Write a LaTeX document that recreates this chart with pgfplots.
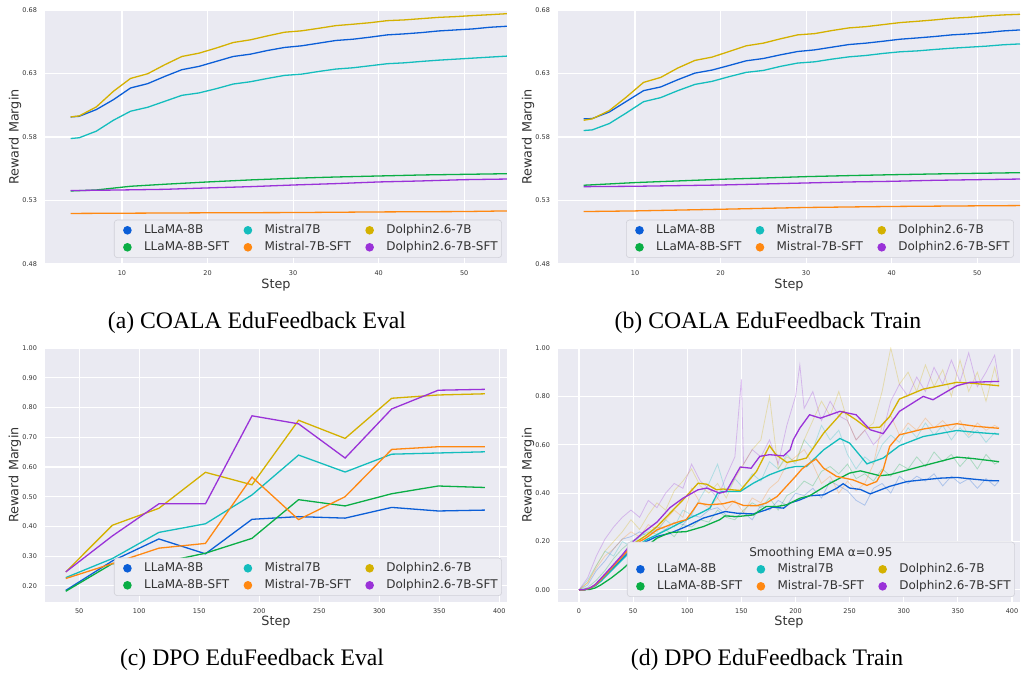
\documentclass[border=0pt]{standalone}
\usepackage{fontspec}
\setmainfont{DejaVu Sans}
\newfontfamily\capfont{Liberation Serif}
\usepackage{pgfplots}
\pgfplotsset{compat=1.18}
\definecolor{cL}{HTML}{0B5ED7}
\definecolor{cLS}{HTML}{0AAE45}
\definecolor{cM}{HTML}{14BDBD}
\definecolor{cMS}{HTML}{FF8811}
\definecolor{cD}{HTML}{D4B100}
\definecolor{cDS}{HTML}{9A32D8}
\definecolor{bg}{HTML}{EAEAF2}
\definecolor{txt}{HTML}{333333}
\definecolor{legbg}{HTML}{EDEDF3}
\definecolor{legedge}{HTML}{D0D0D8}
\pgfplotsset{
  sns/.style={
    scale only axis, width=462pt, height=254pt,
    axis background/.style={fill=bg},
    axis line style={draw=none},
    xmajorgrids, ymajorgrids,
    major grid style={draw=white, line width=1.1pt},
    tick style={draw=none},
    ticklabel style={font=\fontsize{6.5}{7}\selectfont, text=txt},
    /pgf/number format/assume math mode=true,
    yticklabel style={/pgf/number format/fixed, /pgf/number format/fixed zerofill, /pgf/number format/precision=2, xshift=-4.5pt},
    xticklabel style={yshift=-3.5pt},
    xlabel={Step}, ylabel={Reward Margin},
    label style={font=\fontsize{12.8}{15}\selectfont, text=txt},
    xlabel style={at={(axis description cs:0.5,-0.083)}, anchor=center},
    ylabel style={at={(axis description cs:-0.065,0.5)}, anchor=center},
    legend columns=3, legend cell align=left,
    legend image code/.code={\fill[##1] (0pt,0pt) circle (3.6pt); \path (-12.5pt,0pt) (12pt,0pt);},
    legend style={font=\fontsize{12}{14}\selectfont, text=txt, fill=legbg, draw=legedge, line width=0.6pt, rounded corners=3pt, inner xsep=0pt, inner ysep=2pt, row sep=0.4pt, anchor=south east, nodes={inner xsep=4pt, inner ysep=2.5pt, text height=9pt, text depth=2.6pt}, /tikz/every even column/.append style={column sep=1.5pt}},
    every axis plot/.append style={line width=1.3pt},
  },
  raw/.style={forget plot, line width=0.8pt, opacity=0.28},
}
\begin{document}
\begin{tikzpicture}
\useasboundingbox (0pt,0pt) rectangle (1021pt,675pt);
% ---------------- (a) ----------------
\begin{axis}[sns, at={(45pt,411pt)}, anchor=south west,
  xmin=1, xmax=55, ymin=0.48, ymax=0.68,
  xtick={10,20,30,40,50}, ytick={0.48,0.53,0.58,0.63,0.68},
  legend style={at={(axis description cs:0.989,0.024)}}]
\addplot[cL] coordinates {(4,0.5958)(5,0.5963)(7,0.6016)(9,0.6094)(11,0.6186)(13,0.622)(15,0.6277)(17,0.633)(19,0.6356)(21,0.6395)(23,0.6434)(25,0.6452)(27,0.6481)(29,0.6505)(31,0.6518)(33,0.6539)(35,0.656)(37,0.657)(39,0.6586)(41,0.6604)(43,0.6612)(45,0.6622)(47,0.6635)(49,0.6643)(51,0.6651)(53,0.6664)(55,0.6672)};
\addlegendentry{LLaMA-8B}
\addplot[cM] coordinates {(4,0.5788)(5,0.5794)(7,0.5846)(9,0.5932)(11,0.6003)(13,0.6034)(15,0.6081)(17,0.6128)(19,0.6147)(21,0.618)(23,0.6217)(25,0.6235)(27,0.6261)(29,0.6285)(31,0.6295)(33,0.6316)(35,0.6335)(37,0.6345)(39,0.6361)(41,0.6377)(43,0.6384)(45,0.6395)(47,0.6405)(49,0.6413)(51,0.6421)(53,0.6429)(55,0.6437)};
\addlegendentry{Mistral7B}
\addplot[cD] coordinates {(4,0.5958)(5,0.5966)(7,0.6037)(9,0.616)(11,0.6261)(13,0.6298)(15,0.6369)(17,0.6434)(19,0.646)(21,0.65)(23,0.6544)(25,0.6565)(27,0.6596)(29,0.6625)(31,0.6636)(33,0.6656)(35,0.6677)(37,0.6688)(39,0.670)(41,0.6716)(43,0.6722)(45,0.6732)(47,0.6742)(49,0.6748)(51,0.6756)(53,0.6763)(55,0.6771)};
\addlegendentry{Dolphin2.6-7B}
\addplot[cLS] coordinates {(4,0.5375)(7,0.5383)(11,0.5412)(15,0.5428)(20,0.5446)(25,0.5462)(30,0.5475)(35,0.5485)(40,0.5493)(45,0.5501)(50,0.5506)(55,0.5511)};
\addlegendentry{LLaMA-8B-SFT}
\addplot[cMS] coordinates {(4,0.5198)(20,0.5203)(30,0.5205)(40,0.521)(50,0.5213)(55,0.5218)};
\addlegendentry{Mistral-7B-SFT}
\addplot[cDS] coordinates {(4,0.5378)(10,0.5383)(15,0.5388)(20,0.5399)(25,0.5409)(30,0.5422)(35,0.5433)(40,0.5446)(45,0.5454)(50,0.5464)(55,0.5469)};
\addlegendentry{Dolphin2.6-7B-SFT}
\end{axis}
% ---------------- (b) ----------------
\begin{axis}[sns, at={(558pt,411pt)}, anchor=south west,
  xmin=1, xmax=55, ymin=0.48, ymax=0.68,
  xtick={10,20,30,40,50}, ytick={0.48,0.53,0.58,0.63,0.68},
  legend style={at={(axis description cs:0.987,0.024)}}]
\addplot[cL] coordinates {(4,0.5943)(5,0.5945)(7,0.5997)(9,0.6081)(11,0.6165)(13,0.6194)(15,0.6251)(17,0.6303)(19,0.6327)(21,0.6363)(23,0.64)(25,0.6418)(27,0.6447)(29,0.6473)(31,0.6486)(33,0.6507)(35,0.6528)(37,0.6539)(39,0.6554)(41,0.657)(43,0.658)(45,0.6591)(47,0.6604)(49,0.6612)(51,0.6622)(53,0.6635)(55,0.6643)};
\addlegendentry{LLaMA-8B}
\addplot[cM] coordinates {(4,0.5851)(5,0.5856)(7,0.5906)(9,0.599)(11,0.6078)(13,0.611)(15,0.6165)(17,0.6214)(19,0.6238)(21,0.6275)(23,0.6309)(25,0.6324)(27,0.6356)(29,0.6382)(31,0.6392)(33,0.6413)(35,0.6431)(37,0.6442)(39,0.6458)(41,0.6471)(43,0.6478)(45,0.6489)(47,0.6499)(49,0.6507)(51,0.6515)(53,0.6526)(55,0.6533)};
\addlegendentry{Mistral7B}
\addplot[cD] coordinates {(4,0.5932)(5,0.5943)(7,0.6008)(9,0.6115)(11,0.623)(13,0.6269)(15,0.6343)(17,0.6403)(19,0.6429)(21,0.6473)(23,0.6518)(25,0.6539)(27,0.6573)(29,0.6604)(31,0.6614)(33,0.6638)(35,0.6659)(37,0.6669)(39,0.6685)(41,0.6701)(43,0.6711)(45,0.6722)(47,0.6735)(49,0.6742)(51,0.6753)(53,0.6761)(55,0.6766)};
\addlegendentry{Dolphin2.6-7B}
\addplot[cLS] coordinates {(4,0.542)(10,0.5441)(15,0.5454)(20,0.5467)(25,0.5477)(30,0.5488)(35,0.5496)(40,0.5503)(45,0.5509)(50,0.5514)(55,0.5519)};
\addlegendentry{LLaMA-8B-SFT}
\addplot[cMS] coordinates {(4,0.5213)(10,0.5218)(20,0.5231)(30,0.5245)(40,0.5253)(50,0.5258)(55,0.526)};
\addlegendentry{Mistral-7B-SFT}
\addplot[cDS] coordinates {(4,0.5409)(10,0.5412)(15,0.5417)(20,0.5422)(25,0.543)(30,0.5438)(35,0.5446)(40,0.5451)(45,0.5459)(50,0.5464)(55,0.5469)};
\addlegendentry{Dolphin2.6-7B-SFT}
\end{axis}
% ---------------- (c) ----------------
\begin{axis}[sns, at={(45pt,73pt)}, anchor=south west,
  xmin=21.5, xmax=406.5, ymin=0.146, ymax=1.0,
  xtick={50,100,...,400}, ytick={0.2,0.3,0.4,0.5,0.6,0.7,0.8,0.9,1.0},
  xlabel style={at={(axis description cs:0.5,-0.079)}},
  legend style={at={(axis description cs:0.989,0.024)}}]
\addplot[cL] coordinates {(38.8,0.185)(77.6,0.284)(116.4,0.358)(155.2,0.308)(194,0.424)(232.8,0.433)(271.6,0.428)(310.4,0.464)(349.2,0.452)(388,0.455)};
\addlegendentry{LLaMA-8B}
\addplot[cM] coordinates {(38.8,0.228)(77.6,0.292)(116.4,0.38)(155.2,0.409)(194,0.506)(232.8,0.64)(271.6,0.583)(310.4,0.643)(349.2,0.647)(388,0.651)};
\addlegendentry{Mistral7B}
\addplot[cD] coordinates {(38.8,0.247)(77.6,0.404)(116.4,0.461)(155.2,0.582)(194,0.54)(232.8,0.757)(271.6,0.696)(310.4,0.831)(349.2,0.842)(388,0.846)};
\addlegendentry{Dolphin2.6-7B}
\addplot[cLS] coordinates {(38.8,0.182)(77.6,0.275)(116.4,0.277)(155.2,0.31)(194,0.36)(232.8,0.49)(271.6,0.469)(310.4,0.51)(349.2,0.536)(388,0.531)};
\addlegendentry{LLaMA-8B-SFT}
\addplot[cMS] coordinates {(38.8,0.225)(77.6,0.275)(116.4,0.327)(155.2,0.343)(194,0.566)(232.8,0.423)(271.6,0.5)(310.4,0.659)(349.2,0.668)(388,0.668)};
\addlegendentry{Mistral-7B-SFT}
\addplot[cDS] coordinates {(38.8,0.247)(77.6,0.368)(116.4,0.476)(155.2,0.476)(194,0.772)(232.8,0.745)(271.6,0.63)(310.4,0.795)(349.2,0.858)(388,0.861)};
\addlegendentry{Dolphin2.6-7B-SFT}
\end{axis}
% ---------------- (d) ----------------
\begin{axis}[sns, at={(558pt,73pt)}, anchor=south west,
  xmin=-19.4, xmax=407.4, ymin=-0.05, ymax=1.0,
  xtick={0,50,...,400}, ytick={0,0.2,0.4,0.6,0.8,1.0},
  xlabel style={at={(axis description cs:0.5,-0.079)}},
  legend style={at={(axis description cs:0.989,0.02)},
    label={[anchor=north, yshift=-1.7pt, font=\fontsize{12}{14}\selectfont, text=txt]north:Smoothing EMA α=0.95}}]
% raw (unsmoothed) traces
\addplot[raw, cL] coordinates {(0,0)(8,0.02)(16,0.08)(24,0.12)(32,0.17)(40,0.21)(48,0.22)(56,0.24)(64,0.22)(72,0.26)(80,0.25)(88,0.28)(96,0.27)(104,0.31)(112,0.30)(120,0.33)(128,0.34)(136,0.31)(144,0.30)(152,0.32)(160,0.29)(168,0.35)(176,0.33)(184,0.37)(192,0.35)(200,0.40)(208,0.39)(216,0.42)(224,0.38)(232,0.45)(240,0.43)(248,0.41)(256,0.37)(264,0.35)(272,0.42)(280,0.44)(288,0.40)(296,0.47)(304,0.44)(312,0.47)(320,0.45)(328,0.48)(336,0.43)(344,0.47)(352,0.44)(360,0.46)(368,0.42)(376,0.46)(384,0.43)(388,0.45)};
\addplot[raw, cLS] coordinates {(0,0)(8,0.01)(16,0.04)(24,0.08)(32,0.13)(40,0.17)(48,0.20)(56,0.22)(64,0.24)(72,0.23)(80,0.25)(88,0.22)(96,0.27)(104,0.26)(112,0.29)(120,0.28)(128,0.33)(136,0.30)(144,0.29)(152,0.33)(160,0.36)(168,0.34)(176,0.38)(184,0.33)(192,0.39)(200,0.41)(208,0.45)(216,0.43)(224,0.49)(232,0.51)(240,0.48)(248,0.52)(256,0.46)(264,0.48)(272,0.45)(280,0.50)(288,0.47)(296,0.52)(304,0.50)(312,0.55)(320,0.51)(328,0.57)(336,0.53)(344,0.56)(352,0.51)(360,0.55)(368,0.50)(376,0.56)(384,0.52)(388,0.53)};
\addplot[raw, cM] coordinates {(0,0)(8,0.04)(16,0.10)(24,0.16)(32,0.14)(40,0.20)(48,0.18)(56,0.22)(64,0.25)(72,0.24)(80,0.29)(88,0.26)(96,0.33)(104,0.31)(112,0.38)(120,0.44)(128,0.52)(136,0.40)(144,0.46)(152,0.42)(160,0.48)(168,0.45)(176,0.53)(184,0.50)(192,0.56)(200,0.52)(208,0.62)(216,0.58)(224,0.68)(232,0.62)(240,0.66)(248,0.56)(256,0.50)(264,0.55)(272,0.52)(280,0.60)(288,0.64)(296,0.61)(304,0.67)(312,0.63)(320,0.69)(328,0.64)(336,0.68)(344,0.62)(352,0.67)(360,0.63)(368,0.66)(376,0.61)(384,0.65)(388,0.64)};
\addplot[raw, cMS] coordinates {(0,0)(8,0.03)(16,0.09)(24,0.14)(32,0.17)(40,0.21)(48,0.24)(56,0.22)(64,0.27)(72,0.25)(80,0.29)(88,0.33)(96,0.30)(104,0.42)(112,0.36)(120,0.34)(128,0.38)(136,0.33)(144,0.37)(152,0.32)(160,0.38)(168,0.36)(176,0.42)(184,0.45)(192,0.52)(200,0.55)(208,0.58)(216,0.52)(224,0.44)(232,0.47)(240,0.40)(248,0.45)(256,0.41)(264,0.44)(272,0.52)(280,0.68)(288,0.72)(296,0.64)(304,0.69)(312,0.66)(320,0.71)(328,0.67)(336,0.70)(344,0.66)(352,0.70)(360,0.64)(368,0.69)(376,0.66)(384,0.68)(388,0.67)};
\addplot[raw, cD] coordinates {(0,0)(8,0.03)(16,0.10)(24,0.16)(32,0.20)(40,0.24)(48,0.29)(56,0.25)(64,0.31)(72,0.36)(80,0.33)(88,0.41)(96,0.45)(104,0.50)(112,0.43)(120,0.40)(128,0.44)(136,0.38)(144,0.46)(152,0.52)(160,0.58)(168,0.62)(176,0.80)(184,0.50)(192,0.55)(200,0.53)(208,0.62)(216,0.70)(224,0.78)(232,0.72)(240,0.82)(248,0.70)(256,0.62)(264,0.66)(272,0.69)(280,0.82)(288,1.00)(296,0.85)(304,0.90)(312,0.82)(320,0.93)(328,0.84)(336,0.91)(344,0.80)(352,0.95)(360,0.82)(368,0.90)(376,0.78)(384,0.92)(388,0.84)};
\addplot[raw, cDS] coordinates {(0,0)(8,0.05)(16,0.14)(24,0.21)(32,0.26)(40,0.30)(48,0.33)(56,0.30)(64,0.37)(72,0.34)(80,0.40)(88,0.44)(96,0.42)(104,0.52)(112,0.45)(120,0.42)(128,0.38)(136,0.47)(144,0.55)(150,0.87)(152,0.52)(160,0.58)(168,0.55)(176,0.62)(184,0.52)(192,0.68)(200,0.80)(204,0.93)(208,0.75)(216,0.82)(224,0.70)(232,0.78)(240,0.72)(248,0.70)(256,0.62)(264,0.66)(272,0.60)(280,0.64)(288,0.78)(296,0.85)(304,0.80)(312,0.88)(320,0.82)(328,0.92)(336,0.85)(344,0.95)(352,0.86)(360,0.98)(368,0.84)(376,0.90)(384,0.97)(388,0.86)};
% legend title row
\addlegendimage{empty legend}\addlegendentry{\mbox{}}
\addlegendimage{empty legend}\addlegendentry{\mbox{}}
\addlegendimage{empty legend}\addlegendentry{\mbox{}}
% smoothed
\addplot[cL] coordinates {(0,0)(5,0.001)(10,0.006)(15,0.018)(20,0.038)(25,0.06)(30,0.082)(40,0.13)(50,0.175)(62,0.2)(72,0.221)(84,0.234)(99,0.262)(115,0.297)(125,0.31)(135,0.324)(146,0.317)(161,0.314)(173,0.331)(179,0.342)(189,0.338)(195,0.359)(204,0.372)(213,0.389)(226,0.393)(238,0.42)(244,0.439)(250,0.421)(260,0.415)(269,0.397)(287,0.428)(303,0.448)(318,0.455)(334,0.462)(349,0.465)(364,0.458)(378,0.452)(388,0.451)};
\addlegendentry{LLaMA-8B}
\addplot[cM] coordinates {(0,0)(5,0.001)(10,0.006)(15,0.017)(20,0.035)(30,0.08)(40,0.125)(50,0.17)(62,0.207)(72,0.228)(84,0.255)(99,0.29)(112,0.317)(121,0.338)(128,0.4)(133,0.407)(149,0.407)(161,0.441)(176,0.476)(192,0.503)(200,0.51)(210,0.51)(226,0.579)(241,0.626)(250,0.607)(266,0.521)(281,0.545)(296,0.596)(318,0.634)(349,0.659)(367,0.651)(388,0.644)};
\addlegendentry{Mistral7B}
\addplot[cD] coordinates {(0,0)(5,0.001)(10,0.007)(15,0.02)(20,0.042)(30,0.09)(40,0.14)(50,0.19)(62,0.225)(72,0.262)(84,0.317)(96,0.372)(110,0.441)(118,0.437)(127,0.414)(133,0.417)(149,0.411)(164,0.49)(176,0.596)(182,0.559)(192,0.527)(204,0.538)(210,0.545)(226,0.648)(244,0.738)(256,0.703)(266,0.669)(278,0.673)(287,0.717)(296,0.789)(318,0.83)(349,0.858)(361,0.855)(388,0.844)};
\addlegendentry{Dolphin2.6-7B}
\addplot[cLS] coordinates {(0,0)(10,0.002)(15,0.008)(20,0.02)(30,0.05)(40,0.085)(50,0.125)(62,0.179)(72,0.214)(84,0.237)(99,0.241)(115,0.262)(130,0.29)(135,0.306)(146,0.303)(161,0.31)(173,0.345)(183,0.345)(192,0.352)(204,0.379)(213,0.389)(232,0.441)(250,0.483)(260,0.492)(278,0.472)(287,0.476)(318,0.513)(349,0.549)(364,0.543)(388,0.53)};
\addlegendentry{LLaMA-8B-SFT}
\addplot[cMS] coordinates {(0,0)(5,0.001)(10,0.007)(15,0.02)(20,0.042)(30,0.09)(40,0.138)(50,0.185)(62,0.215)(72,0.248)(84,0.269)(93,0.283)(99,0.29)(104,0.32)(110,0.359)(120,0.352)(133,0.356)(142,0.366)(152,0.349)(164,0.348)(173,0.359)(183,0.386)(192,0.43)(200,0.469)(206,0.5)(213,0.524)(219,0.541)(226,0.503)(238,0.469)(253,0.455)(266,0.432)(275,0.448)(281,0.497)(287,0.593)(296,0.641)(318,0.665)(349,0.687)(367,0.676)(388,0.668)};
\addlegendentry{Mistral-7B-SFT}
\addplot[cDS] coordinates {(0,0)(5,0.001)(10,0.008)(15,0.022)(20,0.046)(30,0.095)(40,0.145)(50,0.2)(60,0.24)(72,0.28)(84,0.34)(96,0.379)(110,0.414)(118,0.421)(130,0.4)(136,0.407)(149,0.508)(159,0.503)(167,0.552)(176,0.559)(189,0.554)(195,0.579)(198,0.621)(204,0.669)(213,0.724)(223,0.71)(241,0.738)(256,0.724)(269,0.662)(281,0.646)(296,0.738)(318,0.8)(327,0.786)(349,0.844)(361,0.858)(388,0.862)};
\addlegendentry{Dolphin2.6-7B-SFT}
\end{axis}
% ---------------- captions ----------------
\node[font=\capfont\fontsize{23.7}{28}\selectfont] at (257pt,352pt) {(a) COALA EduFeedback Eval};
\node[font=\capfont\fontsize{23.7}{28}\selectfont] at (768pt,352pt) {(b) COALA EduFeedback Train};
\node[font=\capfont\fontsize{23.7}{28}\selectfont] at (252pt,15pt) {(c) DPO EduFeedback Eval};
\node[font=\capfont\fontsize{23.7}{28}\selectfont] at (767pt,15pt) {(d) DPO EduFeedback Train};
\end{tikzpicture}
\end{document}
